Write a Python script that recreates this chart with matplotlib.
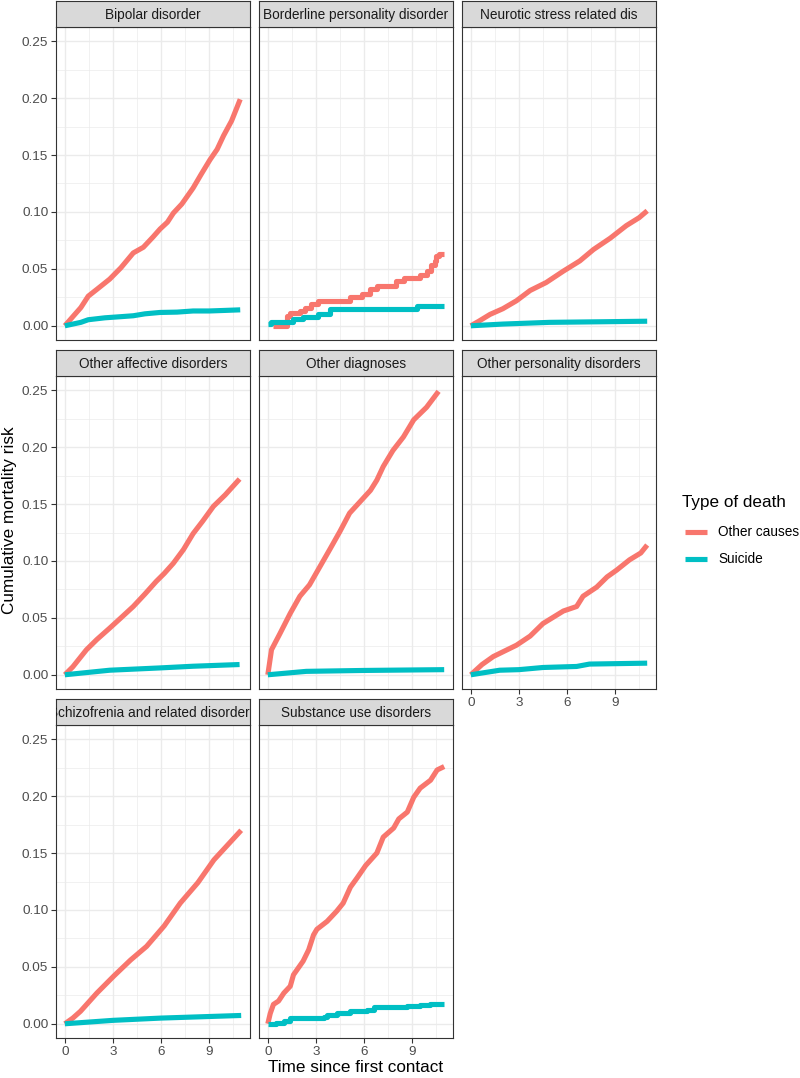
import numpy as np
import matplotlib.pyplot as plt
from matplotlib.lines import Line2D

plt.rcParams['font.family'] = ['Liberation Sans', 'DejaVu Sans']

panels = ['Bipolar disorder', 'Borderline personality disorder', 'Neurotic stress related dis',
          'Other affective disorders', 'Other diagnoses', 'Other personality disorders',
          'Schizofrenia and related disorders', 'Substance use disorders']
death_types = ['Other causes', 'Suicide']

# cumulative risk, other causes / suicide
bip_t_oc = [0, 0.5, 1.0, 1.46, 2.0, 2.8, 3.5, 4.27, 4.9, 5.5, 5.94, 6.4, 6.77, 7.3, 8.0, 8.5, 9.06, 9.5, 9.9, 10.4, 10.94]
bip_oc = [0, 0.008, 0.016, 0.026, 0.032, 0.041, 0.051, 0.064, 0.069, 0.078, 0.085, 0.091, 0.099, 0.107, 0.121, 0.133, 0.146, 0.155, 0.167, 0.18, 0.199]
bip_t_su = [0, 1.0, 1.46, 2.5, 3.5, 4.27, 5.0, 5.94, 7.0, 8.0, 9.0, 10.0, 10.94]
bip_su = [0, 0.003, 0.0053, 0.007, 0.008, 0.0088, 0.0105, 0.0117, 0.012, 0.013, 0.013, 0.0135, 0.014]

bor_t_oc = [0.33, 1.17, 1.4, 2.0, 2.3, 2.7, 3.1, 5.1, 5.85, 6.4, 6.8, 8.0, 8.5, 9.5, 9.9, 10.2, 10.4, 10.5, 10.7, 11.0]
bor_oc = [0, 0.009, 0.011, 0.013, 0.016, 0.019, 0.022, 0.025, 0.028, 0.032, 0.035, 0.039, 0.042, 0.045, 0.048, 0.053, 0.057, 0.061, 0.063, 0.063]
bor_t_su = [0, 0.2, 1.6, 2.2, 3.1, 3.9, 9.3, 11.0]
bor_su = [0.0015, 0.003, 0.006, 0.0075, 0.010, 0.0145, 0.0175, 0.0175]

neu_t_oc = [0, 0.5, 1.2, 2.0, 2.85, 3.7, 4.7, 5.77, 6.8, 7.65, 8.7, 9.7, 10.5, 11.0]
neu_oc = [0, 0.004, 0.010, 0.015, 0.022, 0.031, 0.038, 0.048, 0.057, 0.067, 0.077, 0.088, 0.095, 0.101]
neu_t_su = [0, 2.0, 4.9, 8.0, 11.0]
neu_su = [0, 0.0015, 0.003, 0.0035, 0.004]

aff_t_oc = [0, 0.5, 1.35, 2.0, 2.8, 3.5, 4.27, 5.0, 5.7, 6.2, 6.77, 7.4, 8.0, 8.6, 9.27, 10.0, 10.9]
aff_oc = [0, 0.007, 0.022, 0.031, 0.041, 0.050, 0.060, 0.071, 0.082, 0.089, 0.098, 0.110, 0.124, 0.135, 0.148, 0.158, 0.172]
aff_t_su = [0, 2.8, 5.9, 8.0, 10.9]
aff_su = [0, 0.004, 0.006, 0.0075, 0.009]

oth_t_oc = [0, 0.23, 0.75, 1.4, 2.0, 2.6, 3.25, 3.9, 4.5, 5.1, 5.75, 6.4, 6.8, 7.2, 7.8, 8.46, 9.1, 9.9, 10.65]
oth_oc = [0, 0.022, 0.036, 0.054, 0.069, 0.079, 0.095, 0.111, 0.126, 0.142, 0.152, 0.162, 0.171, 0.183, 0.197, 0.209, 0.224, 0.235, 0.249]
oth_t_su = [0, 2.4, 6.0, 11.0]
oth_su = [0, 0.003, 0.0038, 0.0045]

per_t_oc = [0, 0.7, 1.4, 2.85, 3.7, 4.5, 5.77, 6.6, 7.0, 7.85, 8.5, 9.1, 9.9, 10.6, 11.0]
per_oc = [0, 0.009, 0.016, 0.026, 0.034, 0.045, 0.056, 0.060, 0.069, 0.077, 0.086, 0.092, 0.101, 0.107, 0.114]
per_t_su = [0, 1.8, 3.0, 4.5, 6.6, 7.4, 11.0]
per_su = [0, 0.004, 0.0045, 0.0064, 0.0073, 0.0094, 0.0102]

sch_t_oc = [0, 0.5, 0.98, 2.0, 3.06, 4.1, 5.1, 6.2, 7.2, 8.3, 9.3, 11.0]
sch_oc = [0, 0.005, 0.011, 0.027, 0.042, 0.056, 0.068, 0.086, 0.106, 0.124, 0.144, 0.170]
sch_t_su = [0, 3.0, 6.0, 11.0]
sch_su = [0, 0.003, 0.005, 0.0073]

sub_t_oc = [0, 0.15, 0.35, 0.67, 1.0, 1.4, 1.6, 2.2, 2.55, 2.85, 3.06, 3.7, 4.3, 4.7, 5.15, 5.56, 6.1, 6.8, 7.2, 7.85, 8.17, 8.7, 9.1, 9.5, 10.15, 10.56, 11.0]
sub_oc = [0, 0.009, 0.017, 0.020, 0.027, 0.033, 0.043, 0.055, 0.065, 0.078, 0.083, 0.090, 0.099, 0.106, 0.120, 0.128, 0.139, 0.150, 0.164, 0.172, 0.180, 0.186, 0.199, 0.207, 0.214, 0.223, 0.226]
sub_t_su = [0, 0.5, 1.0, 1.4, 3.5, 3.7, 4.3, 5.1, 6.2, 6.6, 8.7, 9.5, 10.1, 11.0]
sub_su = [0, 0.001, 0.002, 0.005, 0.006, 0.008, 0.0094, 0.011, 0.0123, 0.015, 0.016, 0.0165, 0.017, 0.017]

series = [
    (bip_t_oc, bip_oc, bip_t_su, bip_su, False),
    (bor_t_oc, bor_oc, bor_t_su, bor_su, True),
    (neu_t_oc, neu_oc, neu_t_su, neu_su, False),
    (aff_t_oc, aff_oc, aff_t_su, aff_su, False),
    (oth_t_oc, oth_oc, oth_t_su, oth_su, False),
    (per_t_oc, per_oc, per_t_su, per_su, False),
    (sch_t_oc, sch_oc, sch_t_su, sch_su, False),
    (sub_t_oc, sub_oc, sub_t_su, sub_su, None),
]

red = '#F8766D'
teal = '#00BFC4'
W, H = 800, 1078

def box(x0, y0, w, h):
    return [x0 / W, 1 - (y0 + h) / H, w / W, h / H]

col_x = [56, 259, 462]
row_y = [1, 350, 699]
pw, sh, ph = 194, 26, 313

fig = plt.figure(figsize=(8, 10.78), dpi=100)

for i, name in enumerate(panels):
    r, c = divmod(i, 3)
    x0, y0 = col_x[c], row_y[r]
    ax = fig.add_axes(box(x0, y0 + sh, pw, ph))
    t1, v1, t2, v2, step = series[i]
    ds_oc = 'steps-post' if step else 'default'
    ds_su = 'steps-post' if step is not False else 'default'
    ax.plot(t1, v1, color=red, lw=3.7, drawstyle=ds_oc, solid_capstyle='butt', zorder=3)
    ax.plot(t2, v2, color=teal, lw=3.7, drawstyle=ds_su, solid_capstyle='butt', zorder=3)
    ax.set_xlim(-0.55, 11.55)
    ax.set_ylim(-0.0125, 0.2625)
    ax.set_xticks([0, 3, 6, 9])
    ax.set_xticks([1.5, 4.5, 7.5, 10.5], minor=True)
    ax.set_yticks([0, 0.05, 0.10, 0.15, 0.20, 0.25])
    ax.set_yticks([0.025, 0.075, 0.125, 0.175, 0.225], minor=True)
    ax.grid(which='major', color='#EBEBEB', lw=1.0, zorder=0)
    ax.grid(which='minor', color='#EBEBEB', lw=0.5, zorder=0)
    ax.set_axisbelow(True)
    for s in ax.spines.values():
        s.set_color('#333333')
        s.set_linewidth(0.8)
    ax.tick_params(which='minor', length=0)
    ax.tick_params(which='major', length=3.5, width=0.8, color='#333333',
                   labelsize=9.7, labelcolor='#4D4D4D', pad=2)
    if c == 0:
        ax.set_yticklabels(['0.00', '0.05', '0.10', '0.15', '0.20', '0.25'])
    else:
        ax.tick_params(axis='y', length=0, labelleft=False)
    if r == 2 or (r == 1 and c == 2):
        ax.set_xticklabels(['0', '3', '6', '9'])
    else:
        ax.tick_params(axis='x', length=0, labelbottom=False)

    st = fig.add_axes(box(x0, y0, pw, sh))
    st.set_facecolor('#D9D9D9')
    st.set_xticks([])
    st.set_yticks([])
    for s in st.spines.values():
        s.set_color('#333333')
        s.set_linewidth(0.8)
    st.text(0.5, 0.48, name, ha='center', va='center', fontsize=9.8,
            color='#1A1A1A', transform=st.transAxes, clip_on=True)

fig.text(356 / W, 1 - 1067 / H, 'Time since first contact', ha='center', va='center',
         fontsize=12.3)
fig.text(10 / W, 1 - 520 / H, 'Cumulative mortality risk', ha='center', va='center',
         rotation=90, fontsize=12.3)

# legend
fig.text(682 / W, 1 - 503 / H, 'Type of death', ha='left', va='center', fontsize=12.3)
for k, (lab, col) in enumerate(zip(death_types, [red, teal])):
    yk = 1 - (532 + 27 * k) / H
    fig.add_artist(Line2D([685 / W, 707 / W], [yk, yk], color=col, lw=3.7,
                          solid_capstyle='butt', transform=fig.transFigure))
    fig.text(718 / W, yk, lab, ha='left', va='center', fontsize=9.8)

fig.savefig('out.png', dpi=100)
